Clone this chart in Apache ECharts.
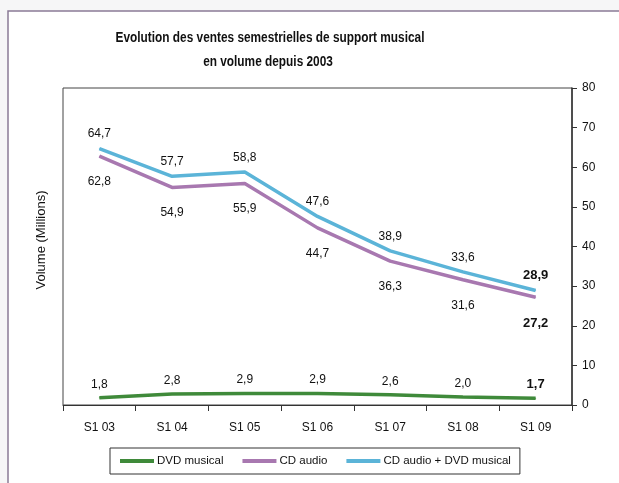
<!DOCTYPE html>
<html><head><meta charset="utf-8">
<script src="https://cdn.jsdelivr.net/npm/echarts@6/dist/echarts.min.js"></script>
<style>html,body{margin:0;padding:0;background:#f6f6f7}#c{width:619px;height:483px}</style>
</head><body><div id="c"></div>
<script>
const categories = ['S1 03','S1 04','S1 05','S1 06','S1 07','S1 08','S1 09'];
const dvdMusical = [1.8, 2.8, 2.9, 2.9, 2.6, 2.0, 1.7];
const cdAudio = [62.8, 54.9, 55.9, 44.7, 36.3, 31.6, 27.2];
const cdPlusDvd = [64.7, 57.7, 58.8, 47.6, 38.9, 33.6, 28.9];
const seriesNames = ['DVD musical', 'CD audio', 'CD audio + DVD musical'];
const titleLines = ['Evolution des ventes semestrielles de support musical', 'en volume depuis 2003'];
const yAxisName = 'Volume (Millions)';

const FONT = "'Liberation Sans',sans-serif";
const fmt = v => v.toFixed(1).replace('.', ',');
function mk(arr){
  return arr.map((v,i)=>({value:v, label: i===arr.length-1 ? {show:true, fontWeight:'bold', fontSize:13} : {show:true}}));
}
const chart = echarts.init(document.getElementById('c'), null, {renderer:'canvas'});
const lbl = (pos, dist) => ({show: true, position: pos, distance: dist, formatter: p => fmt(p.value), fontFamily: FONT, fontSize: 12, color: '#111'});
chart.setOption({
  backgroundColor: 'transparent',
  animation: false,
  graphic: [
    {type:'rect', shape:{x:8, y:11, width:700, height:600}, style:{fill:'#fff', stroke:'#8a7b96', lineWidth:1.5}, z:-10},
    {type:'text', x:41, y:240, rotation:Math.PI/2, style:{text:yAxisName, font:'13px '+FONT, fill:'#111', textAlign:'center', textVerticalAlign:'middle'}},
    {type:'text', x:270, y:38, scaleX:0.79, style:{text:titleLines[0], font:'bold 15px '+FONT, fill:'#111', textAlign:'center', textVerticalAlign:'middle'}},
    {type:'text', x:268, y:62, scaleX:0.79, style:{text:titleLines[1], font:'bold 15px '+FONT, fill:'#111', textAlign:'center', textVerticalAlign:'middle'}}
  ],
  legend: {
    data: seriesNames,
    left: 110, top: 448, width: 412,
    padding: [7, 9, 7, 10],
    borderColor: '#333', borderWidth: 1,
    itemWidth: 34, itemHeight: 4, itemGap: 19,
    icon: 'rect',
    textStyle: {fontFamily: FONT, fontSize: 11.5, color: '#111', padding:[0,0,0,-2]}
  },
  grid: {left: 63, right: 47, top: 88, bottom: 78, show: true, borderColor: '#444', borderWidth: 1},
  xAxis: {
    type: 'category', data: categories, boundaryGap: true,
    axisLine: {lineStyle: {color: '#333'}},
    axisTick: {show: true, length: 6, lineStyle:{color:'#333'}},
    axisLabel: {fontFamily: FONT, fontSize: 12, color: '#111', margin: 17},
    splitLine: {show: false}
  },
  yAxis: {
    type: 'value', position: 'right', min: 0, max: 80, interval: 10,
    axisLine: {show: true, lineStyle: {color: '#333', width: 1.5}},
    axisTick: {show: true, length: 5, lineStyle:{color:'#333'}},
    axisLabel: {fontFamily: FONT, fontSize: 12, color: '#111', margin: 10},
    splitLine: {show: false}
  },
  series: [
    {name: seriesNames[0], type: 'line', data: mk(dvdMusical), symbol: 'circle', symbolSize: 1, showSymbol: true,
     lineStyle: {color: '#3f8a3a', width: 3.5}, itemStyle: {color: '#3f8a3a', borderWidth: 0},
     label: lbl('top', 7)},
    {name: seriesNames[1], type: 'line', data: mk(cdAudio), symbol: 'circle', symbolSize: 1, showSymbol: true,
     lineStyle: {color: '#a878b0', width: 3.5}, itemStyle: {color: '#a878b0', borderWidth: 0},
     label: lbl('bottom', 19)},
    {name: seriesNames[2], type: 'line', data: mk(cdPlusDvd), symbol: 'circle', symbolSize: 1, showSymbol: true,
     lineStyle: {color: '#5bb4d8', width: 3.5}, itemStyle: {color: '#5bb4d8', borderWidth: 0},
     label: lbl('top', 8)}
  ]
});
</script></body></html>
